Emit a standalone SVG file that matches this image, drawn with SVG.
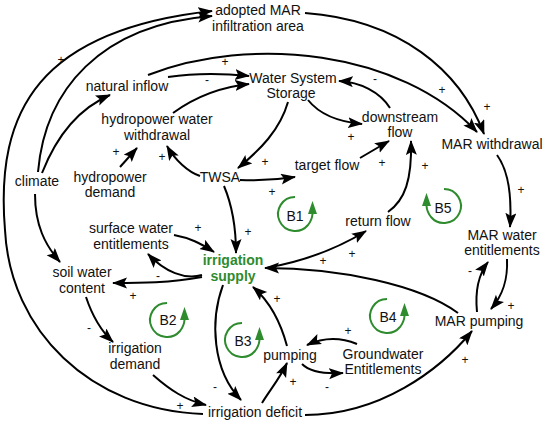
<svg xmlns="http://www.w3.org/2000/svg" width="550" height="426" viewBox="0 0 550 426">
<style>
.n{font-family:"Liberation Sans",Arial,sans-serif;font-size:14px;fill:#111;text-anchor:middle}
.g{font-family:"Liberation Sans",Arial,sans-serif;font-size:14px;font-weight:bold;fill:#2e8b2e;text-anchor:middle}
.l{font-family:"Liberation Sans",Arial,sans-serif;font-size:12px;fill:#111;text-anchor:middle}
.c path{fill:none;stroke:#000;stroke-width:2;marker-end:url(#ah)}
.lt{font-family:"Liberation Sans",Arial,sans-serif;font-size:14px;fill:#111;text-anchor:middle}
</style>
<defs>
<marker id="ah" markerUnits="userSpaceOnUse" markerWidth="16" markerHeight="12" refX="14" refY="5.5" orient="auto">
<path d="M0,0 L15,5.5 L0,11 L3,5.5 z" fill="#000"/>
</marker>
<g id="loop">
<path d="M 0,-17 A 17 17 0 1 0 13,11 Q 17,6 17.5,0" fill="none" stroke="#2e8b2e" stroke-width="2"/>
<polygon points="17.5,-13 13,0 22,0" fill="#2e8b2e"/>
</g>
</defs>
<rect width="550" height="426" fill="#fff"/>

<g id="connectors" class="c">
<path d="M 203,414 C 90,410 10,330 5,230 C -5,110 40,30 212,11"/>
<path d="M 38,172 C 45,90 100,25 212,16"/>
<path d="M 42,173 C 55,140 75,110 110,95"/>
<path d="M 35,194 C 35,225 45,245 60,262"/>
<path d="M 168,77 C 195,73 220,73 249,76"/>
<path d="M 173,113 C 195,97 220,87 249,84"/>
<path d="M 148,75 C 250,35 400,50 477,132"/>
<path d="M 305,13 C 400,20 460,70 484,134"/>
<path d="M 288,102 C 280,130 260,150 238,168"/>
<path d="M 308,100 C 320,115 340,122 362,124"/>
<path d="M 390,108 C 380,92 360,82 339,81"/>
<path d="M 200,176 C 188,172 175,160 167,146"/>
<path d="M 120,167 L 137,148"/>
<path d="M 240,180 C 260,181 275,180 295,177"/>
<path d="M 360,158 L 389,141"/>
<path d="M 388,212 C 405,200 412,180 411,141"/>
<path d="M 224,186 C 232,205 236,230 236,253"/>
<path d="M 174,235 C 190,238 200,243 214,252"/>
<path d="M 202,275 C 185,280 165,272 148,254"/>
<path d="M 202,277 C 170,283 140,283 113,283"/>
<path d="M 86,297 C 92,315 100,330 113,342"/>
<path d="M 153,375 C 170,390 185,400 206,405"/>
<path d="M 223,285 C 210,320 212,370 241,400"/>
<path d="M 262,403 C 270,390 280,378 287,363"/>
<path d="M 287,346 C 280,320 268,300 253,287"/>
<path d="M 357,344 C 340,337 322,338 307,345"/>
<path d="M 302,364 C 310,372 325,374 343,373"/>
<path d="M 305,415 C 380,415 440,370 472,331"/>
<path d="M 458,313 C 420,285 340,268 265,268"/>
<path d="M 266,268 C 300,262 335,250 366,231"/>
<path d="M 497,155 C 508,170 512,195 510,227"/>
<path d="M 507,259 C 508,280 503,295 491,309"/>
<path d="M 477,312 C 475,292 478,275 488,262"/>
</g>

<g id="labels" class="l">
<text x="61" y="64">+</text>
<text x="225" y="66">+</text>
<text x="207" y="84">-</text>
<text x="442" y="94">+</text>
<text x="487" y="111">+</text>
<text x="375" y="83">-</text>
<text x="351" y="141">+</text>
<text x="265" y="166">+</text>
<text x="162" y="161">+</text>
<text x="116" y="156">+</text>
<text x="272" y="196">+</text>
<text x="382" y="167">+</text>
<text x="425" y="170">+</text>
<text x="248" y="236">+</text>
<text x="198" y="232">+</text>
<text x="158" y="280">-</text>
<text x="133" y="300">+</text>
<text x="89" y="332">-</text>
<text x="180" y="410">+</text>
<text x="215" y="391">-</text>
<text x="293" y="386">+</text>
<text x="277" y="303">+</text>
<text x="348" y="335">+</text>
<text x="327" y="391">-</text>
<text x="465" y="364">+</text>
<text x="323" y="265">+</text>
<text x="352" y="258">+</text>
<text x="521" y="194">+</text>
<text x="511" y="310">+</text>
<text x="470" y="275">-</text>
</g>

<g id="loops">
<g id="B1"><use href="#loop" transform="translate(295,214)"/><text class="lt" x="295" y="221">B1</text></g>
<g id="B2"><use href="#loop" transform="translate(167,320)"/><text class="lt" x="168" y="325">B2</text></g>
<g id="B3"><use href="#loop" transform="translate(242,340)"/><text class="lt" x="243" y="346">B3</text></g>
<g id="B4"><use href="#loop" transform="translate(387,316)"/><text class="lt" x="388" y="322">B4</text></g>
<g id="B5"><use href="#loop" transform="translate(444,206) scale(-1,1)"/><text class="lt" x="443" y="213">B5</text></g>
</g>

<g id="adoptedMAR"><text class="n" x="258" y="15">adopted MAR</text><text class="n" x="258" y="31">infiltration area</text></g>
<g id="waterStorage"><text class="n" x="293" y="83">Water System</text><text class="n" x="291" y="98">Storage</text></g>
<g id="naturalInflow"><text class="n" x="127" y="91">natural inflow</text></g>
<g id="hydroWithdrawal"><text class="n" x="157" y="124">hydropower water</text><text class="n" x="157" y="140">withdrawal</text></g>
<g id="hydroDemand"><text class="n" x="110" y="182">hydropower</text><text class="n" x="110" y="197">demand</text></g>
<g id="climate"><text class="n" x="37" y="186">climate</text></g>
<g id="TWSA"><text class="n" x="220" y="182">TWSA</text></g>
<g id="targetFlow"><text class="n" x="327" y="170">target flow</text></g>
<g id="downstreamFlow"><text class="n" x="400" y="122">downstream</text><text class="n" x="400" y="137">flow</text></g>
<g id="MARwithdrawal"><text class="n" x="492" y="149">MAR withdrawal</text></g>
<g id="returnFlow"><text class="n" x="378" y="226">return flow</text></g>
<g id="MARentitlements"><text class="n" x="502" y="240">MAR water</text><text class="n" x="502" y="255">entitlements</text></g>
<g id="MARpumping"><text class="n" x="479" y="326">MAR pumping</text></g>
<g id="gwEntitlements"><text class="n" x="383" y="359">Groundwater</text><text class="n" x="383" y="374">Entitlements</text></g>
<g id="pumping"><text class="n" x="290" y="360">pumping</text></g>
<g id="irrigationDeficit"><text class="n" x="255" y="417">irrigation deficit</text></g>
<g id="irrigationDemand"><text class="n" x="135" y="353">irrigation</text><text class="n" x="135" y="369">demand</text></g>
<g id="soilWater"><text class="n" x="82" y="277">soil water</text><text class="n" x="82" y="293">content</text></g>
<g id="surfaceWater"><text class="n" x="131" y="233">surface water</text><text class="n" x="131" y="249">entitlements</text></g>
<g id="irrigationSupply"><text class="g" x="233" y="265">irrigation</text><text class="g" x="233" y="281">supply</text></g>
</svg>
